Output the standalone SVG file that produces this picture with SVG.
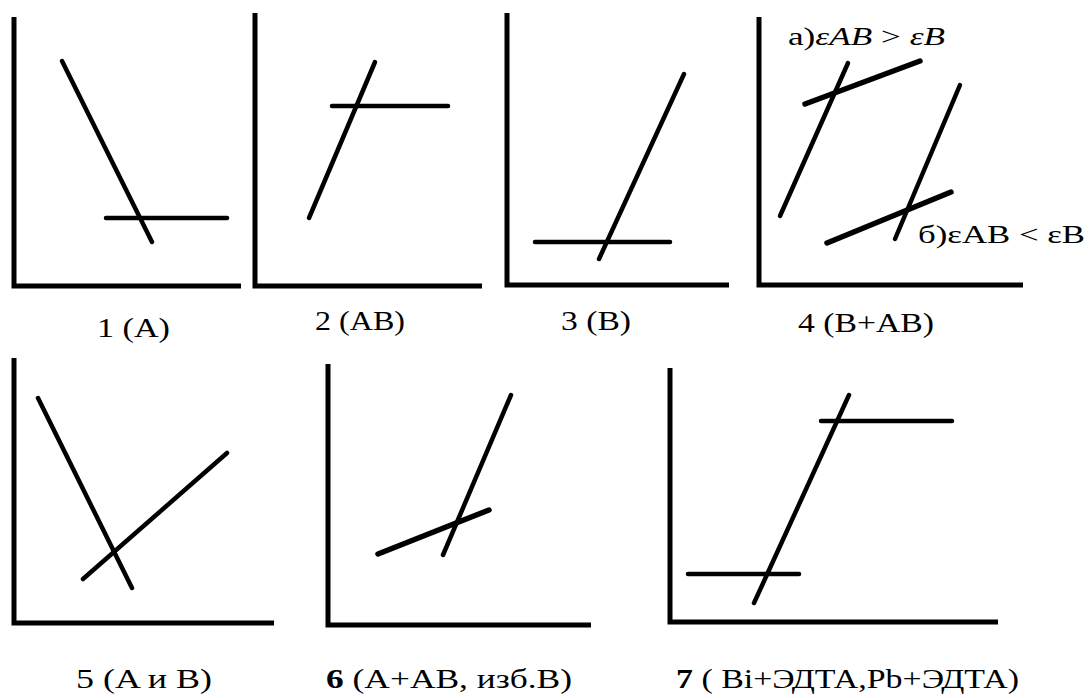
<svg xmlns="http://www.w3.org/2000/svg" width="1090" height="698" viewBox="0 0 1090 698">
<style>
.ax{fill:none;stroke:#000;stroke-width:5;stroke-linecap:butt;stroke-linejoin:miter}
.ln{stroke:#000;stroke-width:4.5;stroke-linecap:round}
.lt{stroke:#000;stroke-width:5.5;stroke-linecap:round}
.lb{font-family:"Liberation Serif","Times New Roman",serif;font-size:28px;fill:#000}
.nt{font-family:"Liberation Serif","Times New Roman",serif;font-size:25px;fill:#000}
</style>
<rect width="1090" height="698" fill="#fff"/>
<g id="plot1">
<polyline class="ax" points="14,17 14,286 241,286"/>
<g class="connectors"><line class="ln" x1="62" y1="61" x2="152" y2="242"/><line class="ln" x1="106" y1="218" x2="227" y2="218"/></g>
<text class="lb" x="97" y="337" textLength="73" lengthAdjust="spacingAndGlyphs">1 (A)</text>
</g>
<g id="plot2">
<polyline class="ax" points="255,13 255,286 482,286"/>
<g class="connectors"><line class="ln" x1="309" y1="218" x2="375" y2="62"/><line class="ln" x1="332" y1="106" x2="448" y2="106"/></g>
<text class="lb" x="315" y="330" textLength="90" lengthAdjust="spacingAndGlyphs">2 (AB)</text>
</g>
<g id="plot3">
<polyline class="ax" points="507,13 507,285 729,285"/>
<g class="connectors"><line class="ln" x1="599" y1="259" x2="684" y2="74"/><line class="ln" x1="535" y1="242" x2="670" y2="242"/></g>
<text class="lb" x="561" y="330" textLength="70" lengthAdjust="spacingAndGlyphs">3 (B)</text>
</g>
<g id="plot4">
<polyline class="ax" points="759,17 759,285 1023,285"/>
<g class="connectors">
<line class="ln" x1="780" y1="216" x2="848" y2="63"/>
<line class="lt" x1="805" y1="104" x2="920" y2="61"/>
<line class="ln" x1="895" y1="239" x2="960" y2="85"/>
<line class="lt" x1="827" y1="243" x2="951" y2="192"/>
</g>
<text class="nt" x="788" y="45" textLength="157" lengthAdjust="spacingAndGlyphs">а)<tspan font-style="italic">εAB</tspan> &gt; <tspan font-style="italic">εB</tspan></text>
<text class="nt" x="918" y="243" textLength="167" lengthAdjust="spacingAndGlyphs">б)εAB &lt; εB</text>
<text class="lb" x="798" y="332" textLength="136" lengthAdjust="spacingAndGlyphs">4 (B+AB)</text>
</g>
<g id="plot5">
<polyline class="ax" points="14,358 14,623 274,623"/>
<g class="connectors"><line class="ln" x1="38" y1="398" x2="132" y2="588"/><line class="ln" x1="83" y1="579" x2="227" y2="453"/></g>
<text class="lb" x="76" y="688" textLength="136" lengthAdjust="spacingAndGlyphs">5 (A и B)</text>
</g>
<g id="plot6">
<polyline class="ax" points="328,364 328,625 591,625"/>
<g class="connectors"><line class="ln" x1="443" y1="555" x2="511" y2="395"/><line class="lt" x1="378" y1="554" x2="489" y2="510"/></g>
<text class="lb" x="326" y="688" textLength="246" lengthAdjust="spacingAndGlyphs"><tspan font-weight="bold">6</tspan> (A+AB, изб.B)</text>
</g>
<g id="plot7">
<polyline class="ax" points="670,368 670,622 998,622"/>
<g class="connectors"><line class="ln" x1="754" y1="603" x2="849" y2="395"/><line class="ln" x1="821" y1="421" x2="952" y2="421"/><line class="ln" x1="688" y1="574" x2="799" y2="574"/></g>
<text class="lb" x="676" y="688" textLength="343" lengthAdjust="spacingAndGlyphs"><tspan font-weight="bold">7</tspan> ( Bi+ЭДТА,Pb+ЭДТА)</text>
</g>
</svg>
